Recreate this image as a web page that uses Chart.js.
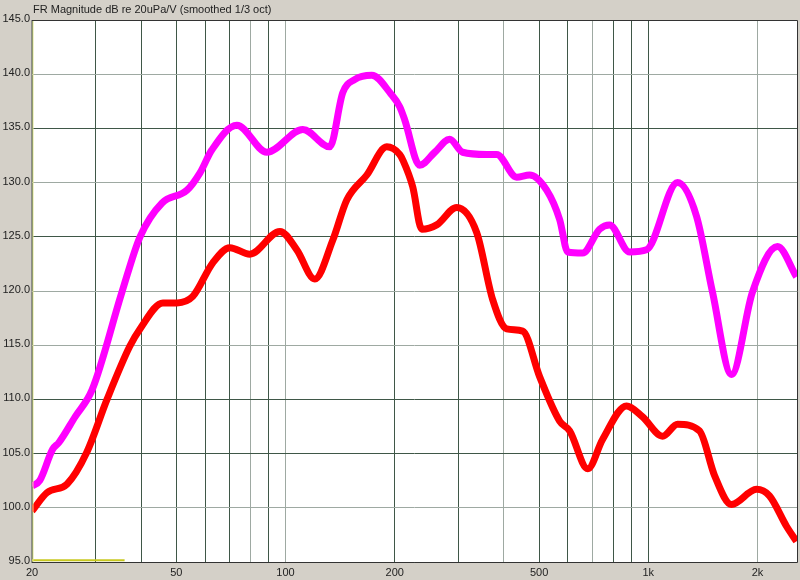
<!DOCTYPE html>
<html>
<head>
<meta charset="utf-8">
<script src="https://cdn.jsdelivr.net/npm/chart.js@4"></script>
<style>
  html, body { margin: 0; padding: 0; background: #d4d0c8; }
  canvas { display: block; }
</style>
</head>
<body>
<canvas id="fr-chart" width="800" height="580"></canvas>
<script>
// frequency response
var magFreq = [20, 21, 22.8, 23.7, 26.3, 29.3, 35.4, 39.7, 45.6, 53.5, 58.1, 62.6, 73.4, 88.8, 111.6, 132.4, 143.8, 155, 172.9, 195, 206.4, 213, 234.4, 257.8, 283.4, 307.8, 358.4, 382, 433.6, 470.8, 524.6, 569.6, 599.6, 659, 734, 782, 888, 989, 1204, 1358, 1503, 1696, 1937, 2270, 2562];
var magDb   = [102.0, 102.5, 105.4, 106.0, 108.4, 110.9, 119.9, 125.0, 128.1, 129.3, 130.9, 133.0, 135.3, 132.8, 134.9, 133.3, 138.3, 139.5, 139.9, 138.2, 137.0, 135.8, 131.6, 132.8, 134.0, 132.8, 132.6, 132.6, 130.5, 130.7, 129.3, 126.6, 123.6, 123.5, 125.7, 126.1, 123.6, 123.8, 130.0, 126.9, 119.9, 112.3, 119.9, 124.1, 121.3];

var redFreq = [20, 22, 25, 28.3, 32.2, 37.2, 39.7, 45.9, 50.2, 55.5, 63.0, 70.2, 79.7, 96.5, 107.4, 120.4, 135, 147.5, 167.5, 190.1, 206.4, 210.4, 224.2, 237.4, 261, 296.4, 336.4, 372.4, 407, 450.6, 501.6, 569.6, 607, 681, 748, 871, 964, 1095, 1204, 1384, 1522, 1696, 1987, 2158, 2404, 2562];
var redDb   = [99.7, 101.4, 102.2, 105.1, 110.0, 114.9, 116.5, 118.9, 118.9, 119.5, 122.6, 124.0, 123.4, 125.5, 123.8, 121.1, 124.7, 128.4, 130.7, 133.3, 132.6, 132.1, 129.6, 125.7, 126.1, 127.7, 125.4, 119.2, 116.5, 116.3, 112.1, 108.0, 107.1, 103.6, 106.3, 109.4, 108.4, 106.6, 107.7, 107.1, 103.0, 100.3, 101.7, 101.1, 98.3, 96.9];

// small yellow marker along the bottom edge
var markerFreq = [20, 36];
var markerDb = [95.15, 95.15];

var xGridTicks = [20, 30, 40, 50, 60, 70, 80, 90, 100, 200, 300, 400, 500, 600, 700, 800, 900, 1000, 2000];
var xLabelled = { 20: "20", 50: "50", 100: "100", 200: "200", 500: "500", 1000: "1k", 2000: "2k" };
var xLightLines = [80, 100, 400, 700, 2000];
var yLightLines = [140, 130, 120, 115, 100];

var darkGrid = "#3f5747";
var lightGrid = "#9ea9a2";

function toPoints(xs, ys) {
    return xs.map((f, i) => ({ x: f, y: ys[i] }));
}

var framePlugin = {
    id: "frame",
    beforeDraw(chart) {
        let a = chart.chartArea, ctx = chart.ctx;
        ctx.save();
        ctx.fillStyle = "#ffffff";
        ctx.fillRect(a.left, a.top, a.right - a.left, a.bottom - a.top);
        ctx.restore();
    },
    afterDraw(chart) {
        let a = chart.chartArea, ctx = chart.ctx;
        ctx.save();
        ctx.strokeStyle = "#333333";
        ctx.lineWidth = 1;
        ctx.beginPath();
        ctx.moveTo(a.left, a.top + 0.5);
        ctx.lineTo(a.right + 0.5, a.top + 0.5);
        ctx.lineTo(a.right + 0.5, a.bottom + 0.5);
        ctx.lineTo(a.left, a.bottom + 0.5);
        ctx.stroke();
        ctx.strokeStyle = "#8c8c8c";
        ctx.beginPath();
        ctx.moveTo(a.left - 0.5, a.top);
        ctx.lineTo(a.left - 0.5, a.bottom + 1);
        ctx.stroke();
        ctx.strokeStyle = "#e6e690";
        ctx.beginPath();
        ctx.moveTo(a.left + 1, a.top + 1);
        ctx.lineTo(a.left + 1, a.bottom);
        ctx.stroke();
        // title
        ctx.fillStyle = "#222222";
        ctx.font = "11px Arial, 'Liberation Sans', sans-serif";
        ctx.textBaseline = "middle";
        ctx.fillText("FR Magnitude dB re 20uPa/V (smoothed 1/3 oct)", a.left + 1, 10);
        ctx.restore();
    }
};

new Chart(document.getElementById("fr-chart"), {
    type: "line",
    data: {
        datasets: [
            {
                data: toPoints(magFreq, magDb),
                borderColor: "#ff00ff",
                borderWidth: 7,
                cubicInterpolationMode: "monotone",
                pointRadius: 0
            },
            {
                data: toPoints(redFreq, redDb),
                borderColor: "#ff0000",
                borderWidth: 7,
                cubicInterpolationMode: "monotone",
                pointRadius: 0
            },
            {
                data: toPoints(markerFreq, markerDb),
                borderColor: "#c8c820",
                borderWidth: 2,
                pointRadius: 0
            }
        ]
    },
    options: {
        responsive: false,
        animation: false,
        layout: { padding: { top: 20, right: 3, left: 0, bottom: 0 } },
        plugins: {
            legend: { display: false },
            tooltip: { enabled: false }
        },
        scales: {
            x: {
                type: "logarithmic",
                min: 20,
                max: 2570,
                afterBuildTicks(scale) {
                    scale.ticks = xGridTicks.map(v => ({ value: v }));
                },
                afterFit(scale) { scale.height = 18; },
                border: { display: false },
                grid: {
                    drawTicks: false,
                    color: ctx => xLightLines.includes(ctx.tick && ctx.tick.value) ? lightGrid : darkGrid
                },
                ticks: {
                    autoSkip: false,
                    maxRotation: 0,
                    padding: 4,
                    color: "#222222",
                    font: { family: "Arial, 'Liberation Sans', sans-serif", size: 11 },
                    callback: v => xLabelled[v] || ""
                }
            },
            y: {
                min: 95,
                max: 145,
                afterFit(scale) { scale.width = 32; },
                border: { display: false },
                grid: {
                    drawTicks: false,
                    color: ctx => yLightLines.includes(ctx.tick && ctx.tick.value) ? lightGrid : darkGrid
                },
                ticks: {
                    stepSize: 5,
                    padding: 2,
                    labelOffset: -1,
                    color: "#222222",
                    font: { family: "Arial, 'Liberation Sans', sans-serif", size: 11 },
                    callback: v => v.toFixed(1)
                }
            }
        }
    },
    plugins: [framePlugin]
});
</script>
</body>
</html>
